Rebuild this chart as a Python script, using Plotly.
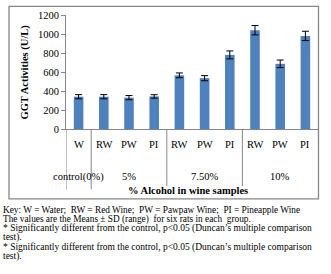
import plotly.graph_objects as go

categories = ["W", "RW", "PW", "PI", "RW", "PW", "PI", "RW", "PW", "PI"]
values = [340, 340, 330, 343, 565, 535, 780, 1040, 686, 980]
errors = [22, 22, 22, 18, 25, 27, 42, 49, 40, 49]
group_labels = ["control(0%)", "5%", "7.50%", "10%"]
group_centers = [0, 2, 5, 8]
separators = [0.5, 3.5, 6.5]
separator_ends = [-0.53, -0.50, -0.50]
y_ticks = [0, 200, 400, 600, 800, 1000, 1200]
notes = [
    "Key: W = Water;  RW = Red Wine;  PW = Pawpaw Wine;  PI = Pineapple Wine",
    "The values are the Means \u00b1 SD (range)  for six rats in each  group.",
    "* Significantly different from the control, p<0.05 (Duncan\u2019s multiple comparison",
    "test).",
    "* Significantly different from the control, p<0.05 (Duncan\u2019s multiple comparison",
    "test).",
]
note_sizes = [9.3, 9.3, 9.5, 9.5, 9.5, 9.5]
note_y_px = [213.5, 223.3, 233, 242.7, 252.4, 262]

W, H = 331, 274
ML, MR, MT, MB = 66, 13, 10, 145
PH = H - MT - MB
PW = W - ML - MR

def py(ypx):
    return (H - MB - ypx) / PH

def px(xpx):
    return (xpx - ML) / PW

FONT = "Liberation Serif"
GREY = "#868686"

x = list(range(len(categories)))
fig = go.Figure()
fig.add_trace(go.Bar(
    x=x, y=values, width=0.38,
    marker=dict(color="#4F81BD", line=dict(width=0)),
    error_y=dict(type="data", array=errors, visible=True, color="black", thickness=1, width=3.5),
))

ann = []
for i, c in enumerate(categories):
    ann.append(dict(x=i, y=py(145), xref="x", yref="paper", text=c, showarrow=False,
                    font=dict(family=FONT, size=10.5, color="black"), xanchor="center", yanchor="middle"))
for g, cx in zip(group_labels, group_centers):
    ann.append(dict(x=cx, y=py(179), xref="x", yref="paper", text=g, showarrow=False,
                    font=dict(family=FONT, size=10.5, color="black"), xanchor="center", yanchor="middle"))
ann.append(dict(x=px(188), y=py(193), xref="paper", yref="paper", text="<b>% Alcohol in wine samples</b>",
                showarrow=False, font=dict(family=FONT, size=10.5, color="black"), xanchor="center", yanchor="middle"))
ann.append(dict(x=px(25), y=py(70), xref="paper", yref="paper", text="<b>GGT Activities (U/L)</b>",
                textangle=-90, showarrow=False, font=dict(family=FONT, size=10.5, color="black"),
                xanchor="center", yanchor="middle"))
for t, yp, fs in zip(notes, note_y_px, note_sizes):
    ann.append(dict(x=px(2), y=py(yp), xref="paper", yref="paper", text=t, showarrow=False,
                    font=dict(family=FONT, size=fs, color="black"), xanchor="left", yanchor="middle",
                    borderpad=0))

shapes = []
shapes.append(dict(type="line", xref="x", yref="paper", x0=-0.5, x1=-0.5, y0=0, y1=py(192),
                   line=dict(color=GREY, width=1)))
for s, e in zip(separators, separator_ends):
    shapes.append(dict(type="line", xref="x", yref="paper", x0=s, x1=s, y0=0, y1=e,
                       line=dict(color=GREY, width=1)))
shapes.append(dict(type="rect", xref="paper", yref="paper", x0=px(9), x1=px(318.5), y0=py(202), y1=py(1),
                   line=dict(color=GREY, width=1.3), fillcolor="rgba(0,0,0,0)"))

fig.update_layout(
    width=W, height=H,
    margin=dict(l=ML, r=MR, t=MT, b=MB),
    paper_bgcolor="white", plot_bgcolor="white",
    showlegend=False,
    xaxis=dict(range=[-0.5, 9.5], showticklabels=False, ticks="", showgrid=False, zeroline=False,
               showline=True, linecolor=GREY, linewidth=1),
    yaxis=dict(range=[0, 1200], tickvals=y_ticks, ticks="outside", ticklen=4, tickcolor=GREY,
               showgrid=False, zeroline=False, showline=True, linecolor=GREY, linewidth=1,
               tickfont=dict(family=FONT, size=10.5, color="black")),
    annotations=ann, shapes=shapes,
)
fig.write_html("out.html", config={"displayModeBar": False},
               post_script="document.body.style.margin='0px';document.body.style.overflow='hidden';")
